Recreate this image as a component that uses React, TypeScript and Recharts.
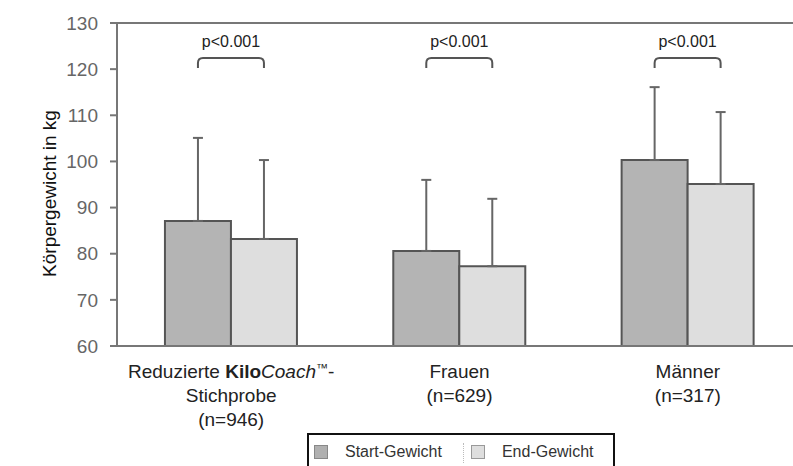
import React from 'react';
import { BarChart, Bar, XAxis, YAxis, ErrorBar, LabelList, Legend, ReferenceLine } from 'recharts';

const groups = ['Reduzierte KiloCoach™-Stichprobe', 'Frauen', 'Männer'];
const sampleSizes = ['n=946', 'n=629', 'n=317'];
const startWeight = [87.1, 80.6, 100.3];
const startSd = [18, 15.4, 15.8];
const endWeight = [83.2, 77.3, 95.1];
const endSd = [17.1, 14.6, 15.6];
const pValues = ['p<0.001', 'p<0.001', 'p<0.001'];
const yTicks = [60, 70, 80, 90, 100, 110, 120, 130];
const yDomain = [60, 130];
const bracketLevel = 122.4;
const pLabelLevel = 126;

const data = groups.map((g, i) => ({
  group: g,
  n: sampleSizes[i],
  start: startWeight[i],
  startErr: [0, startSd[i]],
  end: endWeight[i],
  endErr: [0, endSd[i]],
  p: pValues[i],
}));

const font = '"Liberation Sans", Arial, sans-serif';

const CategoryTick = (props: any) => {
  const { x, y, payload, index } = props;
  const n = sampleSizes[index];
  const common = { textAnchor: 'middle' as const, fontFamily: font, fontSize: 19, fill: '#222' };
  if (index === 0) {
    return (
      <g>
        <text x={x} y={y + 24} {...common}>
          Reduzierte <tspan fontWeight="bold">Kilo</tspan>
          <tspan fontStyle="italic">Coach</tspan>
          <tspan fontSize={12} dy={-6}>™</tspan>
          <tspan dy={6}>-</tspan>
        </text>
        <text x={x} y={y + 48} {...common}>Stichprobe</text>
        <text x={x} y={y + 72} {...common}>({n})</text>
      </g>
    );
  }
  return (
    <g>
      <text x={x} y={y + 24} {...common}>{payload.value}</text>
      <text x={x} y={y + 48} {...common}>({n})</text>
    </g>
  );
};

// bracket + p-value drawn above each pair, using the start bar geometry
const PBracket = (props: any) => {
  const { x, y, width, height, value, index } = props;
  const ppu = height / (value - yDomain[0]);
  const base = y + height;
  const by = base - (bracketLevel - yDomain[0]) * ppu;
  const ty = base - (pLabelLevel - yDomain[0]) * ppu;
  const x1 = x + width / 2;
  const x2 = x + width * 1.5;
  const r = 5;
  const drop = 10;
  return (
    <g>
      <path
        d={`M${x1},${by + drop} L${x1},${by + r} Q${x1},${by} ${x1 + r},${by} L${x2 - r},${by} Q${x2},${by} ${x2},${by + r} L${x2},${by + drop}`}
        fill="none"
        stroke="#555"
        strokeWidth={2}
      />
      <text x={(x1 + x2) / 2} y={ty} textAnchor="middle" dominantBaseline="central" fontFamily={font} fontSize={16} fill="#222">
        {pValues[index]}
      </text>
    </g>
  );
};

const LegendBox = () => (
  <div
    style={{
      boxSizing: 'border-box',
      width: 308,
      height: 40,
      border: '2px solid #111',
      background: '#fff',
      display: 'flex',
      alignItems: 'flex-start',
      paddingTop: 8,
      fontFamily: font,
      fontSize: 16,
      color: '#333',
    }}
  >
    <span style={{ display: 'inline-block', width: 12, height: 12, background: '#b0b0b0', border: '1px solid #888', marginLeft: 5, marginTop: 2 }} />
    <span style={{ marginLeft: 17 }}>Start-Gewicht</span>
    <span style={{ display: 'inline-block', height: 20, borderLeft: '1px dotted #bbb', marginLeft: 21 }} />
    <span style={{ display: 'inline-block', width: 12, height: 12, background: '#dedede', border: '1px solid #999', marginLeft: 7, marginTop: 2 }} />
    <span style={{ marginLeft: 17 }}>End-Gewicht</span>
  </div>
);

const YLabel = (props: any) => {
  const { viewBox } = props;
  const cy = viewBox.y + viewBox.height / 2 + 9;
  return (
    <text
      transform={`translate(49,${cy}) rotate(-90)`}
      textAnchor="middle"
      dominantBaseline="central"
      fontFamily={font}
      fontSize={19}
      fill="#111"
    >
      Körpergewicht in kg
    </text>
  );
};

export default function App() {
  return (
    <div style={{ position: 'absolute', left: 0, top: 0, width: 793, height: 466, overflow: 'hidden', background: '#fff' }}>
      <BarChart
        width={802}
        height={466}
        data={data}
        margin={{ top: 23, right: 0, bottom: 5, left: 0 }}
        barCategoryGap="21%"
        barGap={0}
      >
        <ReferenceLine y={130} stroke="#777" strokeWidth={2} />
        <XAxis
          dataKey="group"
          interval={0}
          height={75}
          tickLine={false}
          axisLine={{ stroke: '#777', strokeWidth: 2 }}
          tick={<CategoryTick />}
        />
        <YAxis
          domain={yDomain}
          ticks={yTicks}
          width={117}
          tickSize={7}
          tickMargin={12}
          axisLine={{ stroke: '#777', strokeWidth: 2 }}
          tickLine={{ stroke: '#777', strokeWidth: 2 }}
          tick={{ fill: '#666', fontSize: 19, fontFamily: font }}
          label={<YLabel />}
        />
        <Legend
          verticalAlign="bottom"
          content={<LegendBox />}
          wrapperStyle={{ left: 307, top: 433, bottom: 'auto', width: 308, height: 40 }}
        />
        <Bar dataKey="start" name="Start-Gewicht" fill="#b4b4b4" stroke="#555" strokeWidth={2} isAnimationActive={false}>
          <ErrorBar dataKey="startErr" direction="y" width={5} stroke="#666" strokeWidth={2} />
          <LabelList dataKey="start" content={<PBracket />} />
        </Bar>
        <Bar dataKey="end" name="End-Gewicht" fill="#dedede" stroke="#555" strokeWidth={2} isAnimationActive={false}>
          <ErrorBar dataKey="endErr" direction="y" width={5} stroke="#666" strokeWidth={2} />
        </Bar>
      </BarChart>
    </div>
  );
}
